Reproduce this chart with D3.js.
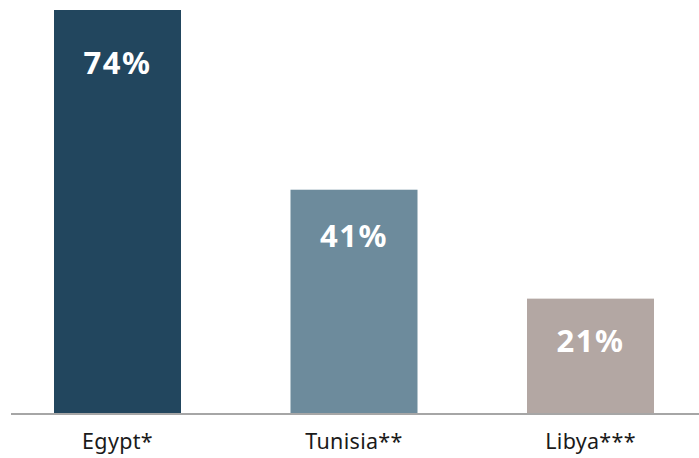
<!DOCTYPE html>
<html><head><meta charset="utf-8">
<script src="https://cdn.jsdelivr.net/npm/d3@7"></script>
<style>body{margin:0;background:#fff}svg{display:block}</style>
</head><body>
<svg id="c" width="699" height="458"></svg>
<script>
const categories = ["Egypt*", "Tunisia**", "Libya***"];
const values = [74, 41, 21];
const valueLabels = ["74%", "41%", "21%"];
const colors = ["#22465e", "#6d8b9c", "#b3a7a3"];

const svg = d3.select("#c");
const baseY = 413;
const x = d3.scaleBand().domain(categories).range([-0.75, 708.75]).paddingInner(0.463).paddingOuter(0.2315);
const y = d3.scaleLinear().domain([0, 74]).range([baseY, 10]);

svg.selectAll("rect.bar").data(values).join("rect")
  .attr("class", "bar")
  .attr("x", (d, i) => x(categories[i]))
  .attr("width", x.bandwidth())
  .attr("y", d => y(d))
  .attr("height", d => baseY - y(d))
  .attr("fill", (d, i) => colors[i]);

svg.selectAll("text.val").data(values).join("text")
  .attr("class", "val")
  .attr("x", (d, i) => x(categories[i]) + x.bandwidth() / 2)
  .attr("y", (d, i) => y(d) + [64, 57, 53][i])
  .attr("text-anchor", "middle")
  .attr("fill", "#fff")
  .attr("font-family", "'Noto Sans', sans-serif")
  .attr("font-weight", "bold")
  .attr("font-size", 31)
  .attr("letter-spacing", 1.5)
  .text((d, i) => valueLabels[i]);

const axis = d3.axisBottom(x).tickSize(0).tickPadding(20);
const g = svg.append("g").attr("transform", `translate(0,${baseY + 1})`).call(axis);
g.select(".domain").attr("d", "M11,0H699").attr("stroke", "#a6a6a6").attr("stroke-width", 2);
g.selectAll(".tick text")
  .attr("font-family", "'Noto Sans', sans-serif")
  .attr("font-size", 21.5)
  .attr("letter-spacing", 0.3)
  .attr("fill", "#1a1a1a");
</script>
</body></html>
